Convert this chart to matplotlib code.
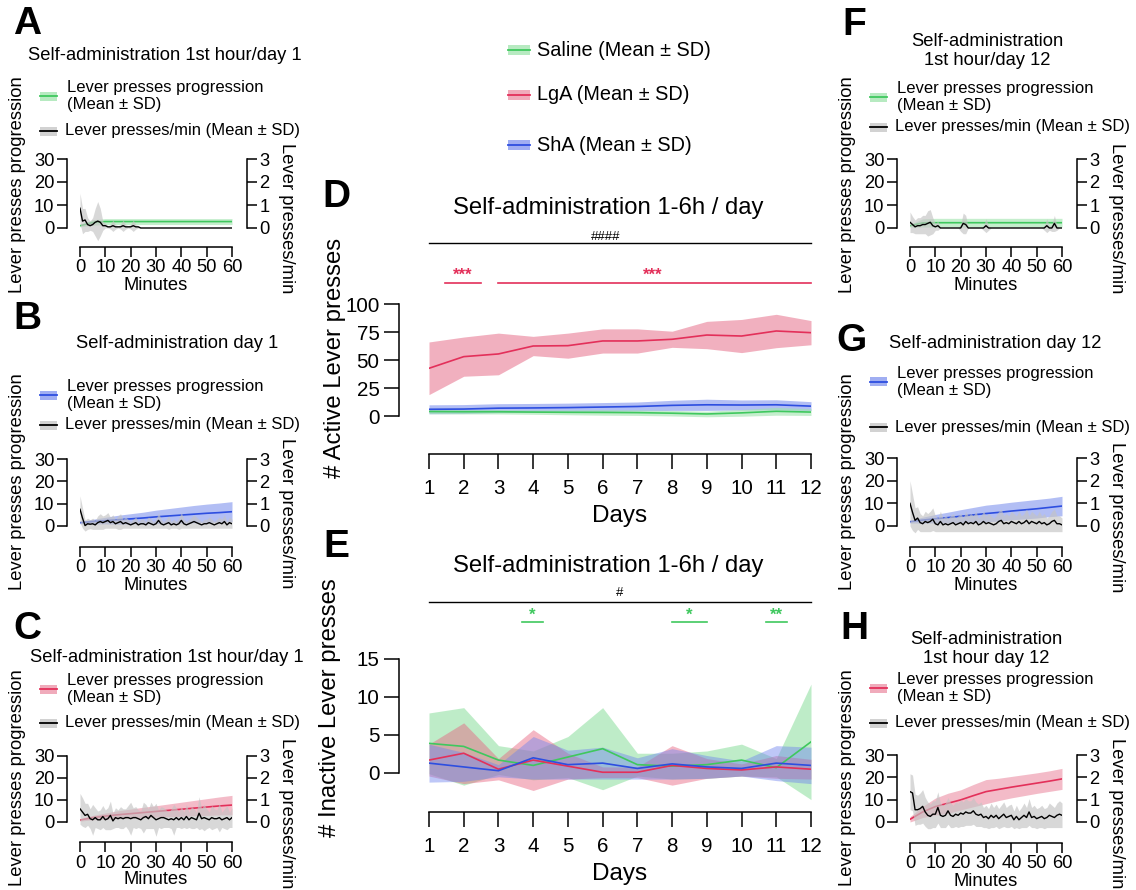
import matplotlib
matplotlib.use('Agg')
import matplotlib.pyplot as plt
from matplotlib.patches import Rectangle
from matplotlib.lines import Line2D

plt.rcParams['font.family'] = ['Liberation Sans', 'DejaVu Sans']
plt.rcParams['axes.linewidth'] = 1.1

W, H = 1136, 890

RED, RED_BAND = '#e3305a', '#ec8fa4'
BLUE, BLUE_BAND = '#2d4ee0', '#8093ee'
GREEN, GREEN_BAND = '#3fc85e', '#9fe3ad'
GRAY_BAND = '#c4c4c4'

# ---- D / E : daily sessions (mean, SD) ----
days = [1, 2, 3, 4, 5, 6, 7, 8, 9, 10, 11, 12]
lga_act = [42.6, 53.0, 55.4, 62.5, 62.8, 67.0, 67.0, 68.5, 72.3, 71.4, 75.9, 74.4]
lga_act_sd = [23.5, 17.5, 18.6, 8.6, 11.2, 10.8, 10.8, 7.2, 12.2, 14.8, 14.9, 10.8]
sha_act = [6.0, 6.2, 7.0, 7.2, 7.5, 8.0, 8.5, 9.5, 10.0, 9.8, 10.0, 8.8]
sha_act_sd = [4.0, 4.0, 4.0, 4.0, 4.0, 4.0, 4.0, 4.5, 5.0, 4.5, 4.5, 4.0]
sal_act = [4.0, 3.8, 3.8, 3.5, 3.3, 3.2, 3.0, 2.5, 1.8, 2.8, 4.2, 3.5]
sal_act_sd = [2.0, 2.0, 2.0, 2.0, 2.2, 2.5, 2.5, 2.5, 2.5, 3.0, 3.5, 3.0]

sal_inact = [3.9, 3.5, 1.7, 1.0, 2.1, 3.2, 1.1, 0.9, 1.1, 1.7, 0.7, 4.1]
sal_inact_sd = [4.0, 5.1, 1.9, 1.9, 2.7, 5.4, 1.5, 1.7, 1.8, 2.1, 1.2, 7.6]
lga_inact = [1.7, 2.6, 0.5, 1.7, 0.9, 0.1, 0.1, 1.0, 0.6, 0.4, 0.8, 0.5]
lga_inact_sd = [2.1, 4.0, 1.4, 4.0, 1.7, 0.7, 0.7, 2.6, 1.3, 0.8, 1.5, 1.3]
sha_inact = [1.3, 0.8, 0.3, 2.0, 1.1, 1.3, 0.6, 1.2, 0.8, 0.6, 1.3, 1.0]
sha_inact_sd = [2.5, 1.9, 0.8, 2.8, 1.9, 2.1, 1.4, 2.0, 1.5, 1.0, 2.3, 2.4]

# ---- A-C, F-H : first hour, cumulative progression every 5 min ----
t5 = [0, 5, 10, 15, 20, 25, 30, 35, 40, 45, 50, 55, 60]
prog_A = [1.0, 2.4, 2.8, 2.8, 2.8, 2.8, 2.8, 2.8, 2.8, 2.8, 2.8, 2.8, 2.8]
prog_A_sd = [0.5, 1.2, 1.3, 1.3, 1.3, 1.3, 1.3, 1.3, 1.3, 1.3, 1.3, 1.3, 1.3]
prog_B = [1.5, 2.0, 2.4, 2.8, 3.2, 3.6, 4.1, 4.5, 4.9, 5.3, 5.7, 6.0, 6.4]
prog_B_sd = [0.5, 1.0, 1.5, 2.0, 2.3, 2.6, 3.0, 3.3, 3.6, 3.9, 4.1, 4.3, 4.5]
prog_C = [0.9, 2.0, 2.7, 3.3, 3.8, 4.3, 4.8, 5.3, 5.8, 6.3, 6.8, 7.3, 7.7]
prog_C_sd = [0.5, 1.0, 1.4, 1.8, 2.1, 2.4, 2.6, 2.9, 3.2, 3.5, 3.8, 4.1, 4.4]
prog_F = [1.0, 2.2, 2.3, 2.3, 2.3, 2.3, 2.3, 2.3, 2.3, 2.3, 2.3, 2.3, 2.3]
prog_F_sd = [0.6, 1.8, 1.9, 1.9, 1.9, 1.9, 1.9, 1.9, 1.9, 1.9, 1.9, 1.9, 1.9]
prog_G = [1.9, 2.6, 3.2, 3.7, 4.3, 4.9, 5.5, 6.0, 6.6, 7.1, 7.6, 8.2, 8.8]
prog_G_sd = [0.6, 1.3, 1.9, 2.4, 2.9, 3.3, 3.7, 3.8, 3.9, 4.0, 4.1, 4.1, 4.3]
prog_H = [1.2, 4.5, 6.9, 8.4, 9.9, 11.8, 13.6, 14.6, 15.6, 16.5, 17.4, 18.3, 19.3]
prog_H_sd = [1.2, 2.5, 3.8, 4.5, 4.5, 5.0, 5.4, 5.0, 4.8, 4.7, 4.6, 4.6, 4.7]

# ---- lever presses per minute (0..60) ----
minutes = list(range(61))
rate_A = [0.86, 0.30, 0.35, 0.15, 0.10, 0.15, 0.25, 0.30, 0.25, 0.10,
          0.10, 0.05, 0.05, 0.10, 0.05, 0.05, 0.05, 0.10, 0.05, 0.05,
          0.05, 0.10, 0.05, 0.05, 0, 0, 0, 0, 0, 0,
          0, 0, 0, 0, 0, 0, 0, 0, 0, 0,
          0, 0, 0, 0, 0, 0, 0, 0, 0, 0,
          0, 0, 0, 0, 0, 0, 0, 0, 0, 0,
          0]
rate_A_sd = [0.65, 0.55, 0.50, 0.30, 0.20, 0.30, 0.60, 0.85, 0.60, 0.20,
             0.10, 0.05, 0.10, 0.25, 0.10, 0.05, 0.10, 0.25, 0.10, 0.05,
             0.10, 0.25, 0.10, 0.05, 0, 0, 0, 0, 0, 0,
             0, 0, 0, 0, 0, 0, 0, 0, 0, 0,
             0, 0, 0, 0, 0, 0, 0, 0, 0, 0,
             0, 0, 0, 0, 0, 0, 0, 0, 0, 0,
             0]
rate_B = [0.75, 0.35, 0.02, 0.10, 0.08, 0.10, 0.05, 0.15, 0.20, 0.15,
          0.20, 0.25, 0.15, 0.20, 0.10, 0.15, 0.20, 0.10, 0.15, 0.10,
          0.05, 0.10, 0.15, 0.05, 0.10, 0.10, 0.05, 0.15, 0.10, 0.05,
          0.10, 0.25, 0.10, 0.05, 0.10, 0.15, 0.05, 0.10, 0.05, 0.10,
          0.25, 0.10, 0.05, 0.10, 0.15, 0.20, 0.15, 0.10, 0.05, 0.10,
          0.10, 0.15, 0.10, 0.05, 0.10, 0.15, 0.10, 0.20, 0.05, 0.15,
          0.10]
rate_B_sd = [0.60, 0.45, 0.25, 0.25, 0.20, 0.25, 0.20, 0.30, 0.35, 0.30,
             0.30, 0.35, 0.25, 0.30, 0.20, 0.30, 0.35, 0.20, 0.25, 0.20,
             0.15, 0.20, 0.25, 0.15, 0.20, 0.20, 0.15, 0.25, 0.20, 0.15,
             0.20, 0.35, 0.20, 0.15, 0.20, 0.30, 0.15, 0.20, 0.15, 0.25,
             0.35, 0.20, 0.15, 0.20, 0.25, 0.30, 0.25, 0.20, 0.15, 0.20,
             0.20, 0.25, 0.20, 0.15, 0.20, 0.25, 0.20, 0.30, 0.15, 0.25,
             0.20]
rate_C = [0.60, 0.45, 0.30, 0.35, 0.15, 0.10, 0.20, 0.10, 0.10, 0.25,
          0.10, 0.15, 0.30, 0.05, 0.20, 0.15, 0.20, 0.15, 0.20, 0.20,
          0.15, 0.20, 0.20, 0.15, 0.10, 0.20, 0.25, 0.15, 0.30, 0.20,
          0.10, 0.15, 0.20, 0.20, 0.15, 0.10, 0.15, 0.10, 0.20, 0.10,
          0.20, 0.10, 0.25, 0.10, 0.20, 0.15, 0.10, 0.40, 0.15, 0.20,
          0.15, 0.10, 0.20, 0.15, 0.15, 0.20, 0.10, 0.15, 0.20, 0.10,
          0.20]
rate_C_sd = [0.70, 0.65, 0.55, 0.50, 0.45, 0.70, 0.45, 0.40, 0.45, 0.50,
             0.45, 0.50, 0.65, 0.35, 0.45, 0.40, 0.50, 0.45, 0.40, 0.55,
             0.75, 0.45, 0.50, 0.40, 0.40, 0.70, 0.55, 0.45, 0.60, 0.50,
             0.75, 0.40, 0.50, 0.45, 0.40, 0.35, 0.45, 0.70, 0.45, 0.35,
             0.50, 0.35, 0.55, 0.35, 0.50, 0.45, 0.35, 0.75, 0.45, 0.60,
             0.45, 0.35, 0.55, 0.45, 0.40, 0.65, 0.35, 0.45, 0.55, 0.35,
             0.45]
rate_F = [0.25, 0.15, 0.05, 0.10, 0.10, 0.15, 0.15, 0.20, 0.25, 0.10,
          0.05, 0.10, 0, 0, 0, 0, 0, 0, 0, 0,
          0, 0.20, 0.15, 0, 0, 0, 0, 0, 0, 0,
          0.10, 0, 0, 0, 0, 0, 0, 0, 0, 0,
          0, 0, 0, 0, 0, 0, 0, 0, 0, 0,
          0, 0, 0, 0, 0.10, 0, 0, 0.20, 0, 0,
          0]
rate_F_sd = [0.45, 0.35, 0.30, 0.35, 0.35, 0.40, 0.40, 0.55, 0.55, 0.35,
             0.15, 0.20, 0, 0, 0, 0, 0, 0, 0, 0,
             0.15, 0.45, 0.40, 0, 0, 0, 0, 0, 0, 0.10,
             0.30, 0.10, 0, 0, 0, 0, 0, 0, 0, 0,
             0, 0, 0, 0, 0, 0, 0, 0, 0, 0,
             0, 0, 0, 0.10, 0.30, 0.10, 0.15, 0.35, 0.10, 0,
             0]
rate_G = [1.00, 0.60, 0.25, 0.35, 0.15, 0.10, 0.20, 0.15, 0.20, 0.30,
          0.10, 0.05, 0.20, 0.05, 0.10, 0.05, 0.10, 0.15, 0.05, 0.10,
          0.15, 0.05, 0.20, 0.10, 0.15, 0.10, 0.20, 0.05, 0.10, 0.20,
          0.10, 0.15, 0.10, 0.05, 0.10, 0.20, 0.25, 0.10, 0.15, 0.10,
          0.20, 0.15, 0.10, 0.20, 0.10, 0.15, 0.25, 0.10, 0.20, 0.15,
          0.10, 0.20, 0.10, 0.15, 0.05, 0.10, 0.20, 0.25, 0.10, 0.10,
          0.05]
rate_G_sd = [1.00, 0.80, 0.55, 0.50, 0.40, 0.35, 0.45, 0.40, 0.45, 0.50,
             0.35, 0.30, 0.45, 0.30, 0.35, 0.30, 0.35, 0.40, 0.30, 0.35,
             0.40, 0.30, 0.45, 0.35, 0.40, 0.35, 0.45, 0.30, 0.35, 0.45,
             0.35, 0.40, 0.35, 0.30, 0.35, 0.45, 0.50, 0.35, 0.40, 0.35,
             0.45, 0.40, 0.35, 0.45, 0.35, 0.40, 0.50, 0.35, 0.45, 0.40,
             0.35, 0.45, 0.35, 0.40, 0.30, 0.35, 0.45, 0.50, 0.35, 0.35,
             0.30]
rate_H = [1.36, 1.30, 0.55, 0.55, 0.60, 0.70, 0.45, 0.30, 0.25, 0.35,
          0.35, 0.65, 0.30, 0.25, 0.30, 0.50, 0.30, 0.25, 0.35, 0.30,
          0.40, 0.35, 0.45, 0.40, 0.40, 0.50, 0.35, 0.30, 0.35, 0.20,
          0.25, 0.15, 0.30, 0.20, 0.30, 0.15, 0.25, 0.35, 0.20, 0.25,
          0.30, 0.10, 0.25, 0.10, 0.20, 0.30, 0.20, 0.45, 0.20, 0.25,
          0.15, 0.20, 0.25, 0.15, 0.20, 0.30, 0.25, 0.20, 0.30, 0.35,
          0.30]
rate_H_sd = [0.80, 0.80, 0.70, 0.65, 0.70, 0.75, 0.65, 0.60, 0.55, 0.60,
             0.60, 0.70, 0.55, 0.50, 0.55, 0.60, 0.55, 0.50, 0.55, 0.55,
             0.60, 0.55, 0.60, 0.55, 0.55, 0.60, 0.55, 0.50, 0.55, 0.45,
             0.50, 0.45, 0.55, 0.45, 0.50, 0.45, 0.50, 0.55, 0.45, 0.50,
             0.50, 0.40, 0.50, 0.40, 0.45, 0.55, 0.45, 0.60, 0.45, 0.50,
             0.45, 0.45, 0.50, 0.45, 0.45, 0.55, 0.50, 0.45, 0.55, 0.60,
             0.55]

fig = plt.figure(figsize=(W / 100, H / 100), dpi=100)


def frect(x0, y0, x1, y1):
    # pixel box (top-left origin) -> figure fraction
    return [x0 / W, 1 - y1 / H, (x1 - x0) / W, (y1 - y0) / H]


def ftext(x, y, s, **kw):
    fig.text(x / W, 1 - y / H, s, **kw)


def band(ax, x, m, sd, col, bcol, alpha=0.55, lw=1.2):
    lo = [a - b for a, b in zip(m, sd)]
    hi = [a + b for a, b in zip(m, sd)]
    ax.fill_between(x, lo, hi, color=bcol, alpha=alpha, lw=0)
    ax.plot(x, m, color=col, lw=lw)


def key(x, y, w, h, col, bcol):
    fig.add_artist(Rectangle((x / W, 1 - (y + h / 2) / H), w / W, h / H,
                             transform=fig.transFigure, facecolor=bcol,
                             alpha=0.75, lw=0))
    fig.add_artist(Line2D([x / W, (x + w) / W], [1 - y / H, 1 - y / H],
                          transform=fig.transFigure, color=col, lw=1.3))


def small_panel(x0, y30, y0, yax, prog, prog_sd, col, bcol, rate, rate_sd):
    ax = fig.add_axes(frect(x0, y30, x0 + 152, yax))
    bottom = -30 * (yax - y0) / (y0 - y30)
    band(ax, t5, prog, prog_sd, col, bcol, alpha=0.6)
    ax.set_xlim(0, 60)
    ax.set_ylim(bottom, 30)
    ax2 = ax.twinx()
    band(ax2, minutes, rate, rate_sd, 'black', GRAY_BAND, alpha=0.65, lw=1.0)
    ax2.set_ylim(bottom / 10, 3)
    for s in ['top', 'right']:
        ax.spines[s].set_visible(False)
    for s in ['top', 'left', 'bottom']:
        ax2.spines[s].set_visible(False)
    ax.spines['left'].set_position(('outward', 9.4))
    ax.spines['left'].set_bounds(0, 30)
    ax.spines['bottom'].set_bounds(0, 60)
    ax2.spines['right'].set_position(('outward', 10.8))
    ax2.spines['right'].set_bounds(0, 3)
    ax.set_xticks([0, 10, 20, 30, 40, 50, 60])
    ax.set_yticks([0, 10, 20, 30])
    ax2.set_yticks([0, 1, 2, 3])
    ax.tick_params(length=7, width=1.1, labelsize=13.2, pad=2)
    ax2.tick_params(length=7, width=1.1, labelsize=13.2, pad=2)
    ax.set_xlabel('Minutes', fontsize=13.2, labelpad=0)
    return ax


def big_panel(ytop, yzero, yax, ymax, yticks):
    ax = fig.add_axes(frect(429, ytop, 811, yax))
    ax.set_xlim(1, 12)
    ax.set_ylim(-ymax * (yax - yzero) / (yzero - ytop), ymax)
    for s in ['top', 'right']:
        ax.spines[s].set_visible(False)
    ax.spines['left'].set_position(('outward', 21.6))
    ax.spines['left'].set_bounds(0, ymax)
    ax.set_xticks(days)
    ax.set_yticks(yticks)
    ax.tick_params(length=11, width=1.1, labelsize=14.8, pad=3)
    ax.tick_params(axis='x', pad=7)
    ax.set_xlabel('Days', fontsize=17.5, labelpad=5)
    return ax


# ---------- left column ----------
small_panel(80, 159, 228, 247, prog_A, prog_A_sd, GREEN, GREEN_BAND, rate_A, rate_A_sd)
small_panel(80, 459, 526, 547, prog_B, prog_B_sd, BLUE, BLUE_BAND, rate_B, rate_B_sd)
small_panel(80, 756, 822, 842, prog_C, prog_C_sd, RED, RED_BAND, rate_C, rate_C_sd)
# ---------- right column ----------
small_panel(910, 159, 228, 247, prog_F, prog_F_sd, GREEN, GREEN_BAND, rate_F, rate_F_sd)
small_panel(910, 458, 526, 547, prog_G, prog_G_sd, BLUE, BLUE_BAND, rate_G, rate_G_sd)
small_panel(910, 755, 822, 843, prog_H, prog_H_sd, RED, RED_BAND, rate_H, rate_H_sd)

# side labels, titles, legends
side = [
    # letter, lx, ly, title, tx, ty, legend y1, legend y2, lab y, rlab y, x off, col, band
    ('A', 27, 24, 'Self-administration 1st hour/day 1', 165, 55, 96, 131, 185, 218, 0, GREEN, GREEN_BAND),
    ('B', 27, 319, 'Self-administration day 1', 177, 343, 395, 425, 482, 513, 0, BLUE, BLUE_BAND),
    ('C', 27, 629, 'Self-administration 1st hour/day 1', 167, 657, 689, 723, 778, 813, 0, RED, RED_BAND),
    ('F', 854, 25, 'Self-administration\n1st hour/day 12', 987, 51, 97, 127, 185, 218, 830, GREEN, GREEN_BAND),
    ('G', 852, 341, 'Self-administration day 12', 995, 343, 382, 427, 482, 517, 830, BLUE, BLUE_BAND),
    ('H', 854, 629, 'Self-administration\n1st hour day 12', 986, 649, 688, 723, 778, 813, 830, RED, RED_BAND),
]
for let, lx, ly, title, tx, ty, e1, e2, laby, rlaby, xo, col, bcol in side:
    ftext(lx, ly, let, fontsize=28, fontweight='bold', ha='center', va='center')
    ftext(tx, ty, title, fontsize=13.2, ha='center', va='center', linespacing=1.2)
    key(xo + 40, e1, 17, 9, col, bcol)
    ftext(xo + 67, e1, 'Lever presses progression\n(Mean ± SD)', fontsize=12,
          ha='left', va='center', linespacing=1.18)
    key(xo + 40, e2, 17, 9, 'black', GRAY_BAND)
    ftext(xo + 65, e2, 'Lever presses/min (Mean ± SD)', fontsize=12, ha='left', va='center')
    ftext(xo + 18, laby, 'Lever presses progression', fontsize=13.2, rotation=90,
          ha='center', va='center')
    ftext(xo + 287, rlaby, 'Lever presses/min', fontsize=13.2, rotation=270,
          ha='center', va='center')

# ---------- top legend ----------
for y, lab, col, bcol in [(50, 'Saline (Mean ± SD)', GREEN, GREEN_BAND),
                          (95, 'LgA (Mean ± SD)', RED, RED_BAND),
                          (145, 'ShA (Mean ± SD)', BLUE, BLUE_BAND)]:
    key(508, y, 22, 10, col, bcol)
    ftext(537, y, lab, fontsize=14.3, ha='left', va='center')

# ---------- D: active lever ----------
axD = big_panel(304, 416, 454, 100, [0, 25, 50, 75, 100])
band(axD, days, lga_act, lga_act_sd, RED, RED_BAND, alpha=0.7)
band(axD, days, sha_act, sha_act_sd, BLUE, BLUE_BAND, alpha=0.6)
band(axD, days, sal_act, sal_act_sd, GREEN, GREEN_BAND, alpha=0.6)
axD.plot([1, 12], [154.5, 154.5], color='black', lw=1, clip_on=False)
axD.text(6.1, 160, '####', fontsize=9.5, ha='center', va='center')
axD.plot([1.46, 2.5], [118.8, 118.8], color=RED, lw=1.2, clip_on=False)
axD.plot([2.99, 12], [118.8, 118.8], color=RED, lw=1.2, clip_on=False)
axD.text(1.98, 126, '***', fontsize=12, color=RED, fontweight='bold', ha='center', va='center')
axD.text(7.45, 126, '***', fontsize=12, color=RED, fontweight='bold', ha='center', va='center')
ftext(336, 197, 'D', fontsize=28, fontweight='bold', ha='center', va='center')
ftext(608, 208, 'Self-administration 1-6h / day', fontsize=17.2, ha='center', va='center')
ftext(335, 358, '# Active Lever presses', fontsize=17.2, rotation=90, ha='center', va='center')

# ---------- E: inactive lever ----------
axE = big_panel(659, 773, 812, 15, [0, 5, 10, 15])
band(axE, days, sal_inact, sal_inact_sd, GREEN, '#7fdb92', alpha=0.5)
band(axE, days, lga_inact, lga_inact_sd, RED, '#e8607e', alpha=0.45)
band(axE, days, sha_inact, sha_inact_sd, BLUE, '#6f84ee', alpha=0.45)
axE.plot([1, 12], [22.5, 22.5], color='black', lw=1, clip_on=False)
axE.text(6.5, 23.7, '#', fontsize=9.5, ha='center', va='center')
for a, b, s in [(3.68, 4.29, '*'), (8.0, 9.0, '*'), (10.7, 11.3, '**')]:
    axE.plot([a, b], [19.9, 19.9], color=GREEN, lw=1.2, clip_on=False)
    axE.text((a + b) / 2, 20.8, s, fontsize=12, color=GREEN, fontweight='bold',
             ha='center', va='center')
ftext(336, 547, 'E', fontsize=28, fontweight='bold', ha='center', va='center')
ftext(608, 566, 'Self-administration 1-6h / day', fontsize=17.2, ha='center', va='center')
ftext(330, 708, '# Inactive Lever presses', fontsize=17.2, rotation=90, ha='center', va='center')

fig.savefig('out.png', dpi=100)
